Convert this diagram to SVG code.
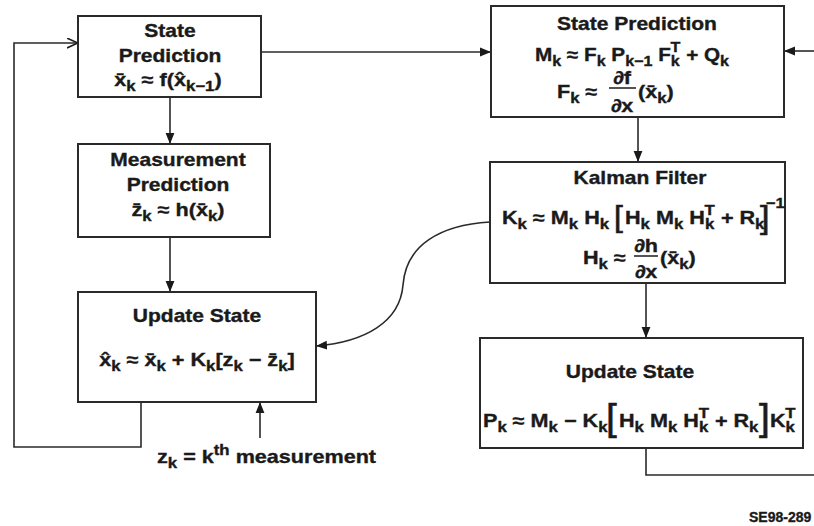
<svg xmlns="http://www.w3.org/2000/svg" width="814" height="526" viewBox="0 0 814 526">
<style>
.box{fill:#fff;stroke:#2a2a2a;stroke-width:2}
.ln{fill:none;stroke:#2a2a2a;stroke-width:1.6}
text{font-family:"Liberation Sans",Arial,sans-serif;font-weight:bold;fill:#1a1a1a;stroke:#1a1a1a;stroke-width:0.35}
.h{font-size:17.5px;text-anchor:middle}
.m{font-size:18px}
.c{text-anchor:middle}
.s{font-size:14px}
.br{font-weight:normal;stroke-width:0.6}
</style>
<defs>
<marker id="a" viewBox="0 0 10 10" refX="10" refY="5" markerWidth="11" markerHeight="11" markerUnits="userSpaceOnUse" orient="auto"><path d="M0,1 L10,5 L0,9 z" fill="#1a1a1a"/></marker>
<marker id="o" viewBox="0 0 10 10" refX="10" refY="5" markerWidth="11" markerHeight="11" markerUnits="userSpaceOnUse" orient="auto"><path d="M0,0.5 L10,5 L0,9.5" fill="none" stroke="#1a1a1a" stroke-width="1.4"/></marker>
</defs>
<rect width="814" height="526" fill="#fff"/>
<g id="connectors">
<path class="ln" d="M141,402 V447 H14 V43 H78" marker-end="url(#o)"/>
<path class="ln" d="M261,52 H491" marker-end="url(#a)"/>
<path class="ln" d="M170,97 V144" marker-end="url(#a)"/>
<path class="ln" d="M170,237 V292" marker-end="url(#a)"/>
<path class="ln" d="M260,438 V402" marker-end="url(#a)"/>
<path class="ln" d="M490,222 C440,225 406,245 403,285 C400,322 365,342 316,346" marker-end="url(#a)"/>
<path class="ln" d="M814,51 H784" marker-end="url(#a)"/>
<path class="ln" d="M638,117 V162" marker-end="url(#a)"/>
<path class="ln" d="M646,283 V338" marker-end="url(#a)"/>
<path class="ln" d="M646,448 V475 H814"/>
</g>
<g id="state-prediction-left">
<rect class="box" x="78" y="16" width="183" height="81"/>
<text class="h" x="170" y="37" transform="matrix(1.2 0 0 1 -34 0)">State</text>
<text class="h" x="170" y="62" transform="matrix(1.2 0 0 1 -34 0)">Prediction</text>
<text class="m c" x="168" y="86" transform="matrix(1.2 0 0 1 -33.6 0)">x̄<tspan class="s" dy="5">k</tspan><tspan dy="-5"> ≈ f(x̂</tspan><tspan class="s" dy="5">k−1</tspan><tspan dy="-5">)</tspan></text>
</g>
<g id="measurement-prediction">
<rect class="box" x="78" y="144" width="192" height="93"/>
<text class="h" x="178" y="166" transform="matrix(1.2 0 0 1 -35.6 0)">Measurement</text>
<text class="h" x="178" y="191" transform="matrix(1.2 0 0 1 -35.6 0)">Prediction</text>
<text class="m c" x="178" y="216" transform="matrix(1.2 0 0 1 -35.6 0)">z̄<tspan class="s" dy="5">k</tspan><tspan dy="-5"> ≈ h(x̄</tspan><tspan class="s" dy="5">k</tspan><tspan dy="-5">)</tspan></text>
</g>
<g id="update-state-left">
<rect class="box" x="78" y="292" width="238" height="110"/>
<text class="h" x="197" y="322" transform="matrix(1.2 0 0 1 -39.4 0)">Update State</text>
<text class="m c" x="197" y="366" transform="matrix(1.2 0 0 1 -39.4 0)">x̂<tspan class="s" dy="5">k</tspan><tspan dy="-5"> ≈ x̄</tspan><tspan class="s" dy="5">k</tspan><tspan dy="-5"> + K</tspan><tspan class="s" dy="5">k</tspan><tspan dy="-5">[z</tspan><tspan class="s" dy="5">k</tspan><tspan dy="-5"> − z̄</tspan><tspan class="s" dy="5">k</tspan><tspan dy="-5">]</tspan></text>
</g>
<g id="measurement-label">
<text class="m" x="157" y="463" transform="matrix(1.2 0 0 1 -31.4 0)">z<tspan class="s" dy="5">k</tspan><tspan dy="-5"> = k</tspan><tspan class="s" dy="-8">th</tspan><tspan dy="8"> measurement</tspan></text>
</g>
<g id="state-prediction-right">
<rect class="box" x="491" y="6" width="293" height="111"/>
<text class="h" x="637" y="30" transform="matrix(1.2 0 0 1 -127.4 0)">State Prediction</text>
<text class="m" x="535" y="61" transform="matrix(1.15 0 0 1 -80.25 0)">M<tspan class="s" dy="5">k</tspan><tspan dy="-5"> ≈ F</tspan><tspan class="s" dy="5">k</tspan><tspan dy="-5"> P</tspan><tspan class="s" dy="5">k−1</tspan><tspan dy="-5"> F</tspan><tspan class="s" dy="5">k</tspan><tspan class="s" dx="-8" dy="-14">T</tspan><tspan dy="9"> + Q</tspan><tspan class="s" dy="5">k</tspan></text>
<text class="m" x="557" y="98" transform="matrix(1.2 0 0 1 -111.4 0)">F<tspan class="s" dy="5">k</tspan><tspan dy="-5">  ≈</tspan></text>
<text class="m c" x="622" y="84" transform="matrix(1.2 0 0 1 -124.4 0)">∂f</text>
<line class="ln" x1="609" y1="88" x2="636" y2="88" stroke-width="1.2"/>
<text class="m c" x="622" y="112" transform="matrix(1.2 0 0 1 -124.4 0)">∂x</text>
<text class="m" x="638" y="98" transform="matrix(1.2 0 0 1 -127.6 0)">(x̄<tspan class="s" dy="5">k</tspan><tspan dy="-5">)</tspan></text>
</g>
<g id="kalman-filter">
<rect class="box" x="490" y="162" width="295" height="121"/>
<text class="h" x="640" y="184" transform="matrix(1.2 0 0 1 -128 0)">Kalman Filter</text>
<text class="m" x="502" y="224" transform="matrix(1.2 0 0 1 -100.4 0)">K<tspan class="s" dy="5">k</tspan><tspan dy="-5"> ≈ M</tspan><tspan class="s" dy="5">k</tspan><tspan dy="-5"> H</tspan><tspan class="s" dy="5">k</tspan></text>
<text class="br" x="614" y="227" font-size="29" transform="matrix(1.1 0 0 1 -61.4 0)">[</text>
<text class="m" x="625" y="224" transform="matrix(1.2 0 0 1 -125 0)">H<tspan class="s" dy="5">k</tspan><tspan dy="-5"> M</tspan><tspan class="s" dy="5">k</tspan><tspan dy="-5"> H</tspan><tspan class="s" dy="5">k</tspan><tspan class="s" dx="-8" dy="-14">T</tspan><tspan dy="9"> + R</tspan><tspan class="s" dy="5">k</tspan></text>
<text class="br" x="760" y="228" font-size="31" transform="matrix(1.1 0 0 1 -76 0)">]</text>
<text x="766" y="208" font-size="15" transform="matrix(1.1 0 0 1 -76.6 0)">−1</text>
<text class="m" x="583" y="264" transform="matrix(1.2 0 0 1 -116.6 0)">H<tspan class="s" dy="5">k</tspan><tspan dy="-5"> ≈</tspan></text>
<text class="m c" x="646" y="252" transform="matrix(1.2 0 0 1 -129.2 0)">∂h</text>
<line class="ln" x1="634" y1="256" x2="658" y2="256" stroke-width="1.2"/>
<text class="m c" x="646" y="278" transform="matrix(1.2 0 0 1 -129.2 0)">∂x</text>
<text class="m" x="660" y="264" transform="matrix(1.2 0 0 1 -132 0)">(x̄<tspan class="s" dy="5">k</tspan><tspan dy="-5">)</tspan></text>
</g>
<g id="update-state-right">
<rect class="box" x="480" y="338" width="323" height="110"/>
<text class="h" x="630" y="378" transform="matrix(1.2 0 0 1 -126 0)">Update State</text>
<text class="m" x="483" y="427" transform="matrix(1.2 0 0 1 -96.6 0)">P<tspan class="s" dy="5">k</tspan><tspan dy="-5"> ≈ M</tspan><tspan class="s" dy="5">k</tspan><tspan dy="-5"> − K</tspan><tspan class="s" dy="5">k</tspan></text>
<text class="br" x="606" y="430" font-size="37" transform="matrix(1.05 0 0 1 -30.3 0)">[</text>
<text class="m" x="619" y="427" transform="matrix(1.2 0 0 1 -123.8 0)">H<tspan class="s" dy="5">k</tspan><tspan dy="-5"> M</tspan><tspan class="s" dy="5">k</tspan><tspan dy="-5"> H</tspan><tspan class="s" dy="5">k</tspan><tspan class="s" dx="-8" dy="-14">T</tspan><tspan dy="9"> + R</tspan><tspan class="s" dy="5">k</tspan></text>
<text class="br" x="759" y="430" font-size="37" transform="matrix(1.05 0 0 1 -37.95 0)">]</text>
<text class="m" x="770" y="427" transform="matrix(1.2 0 0 1 -154 0)">K<tspan class="s" dy="5">k</tspan><tspan class="s" dx="-8" dy="-14">T</tspan></text>
</g>
<text x="749" y="522" font-size="14">SE98-289</text>
</svg>
